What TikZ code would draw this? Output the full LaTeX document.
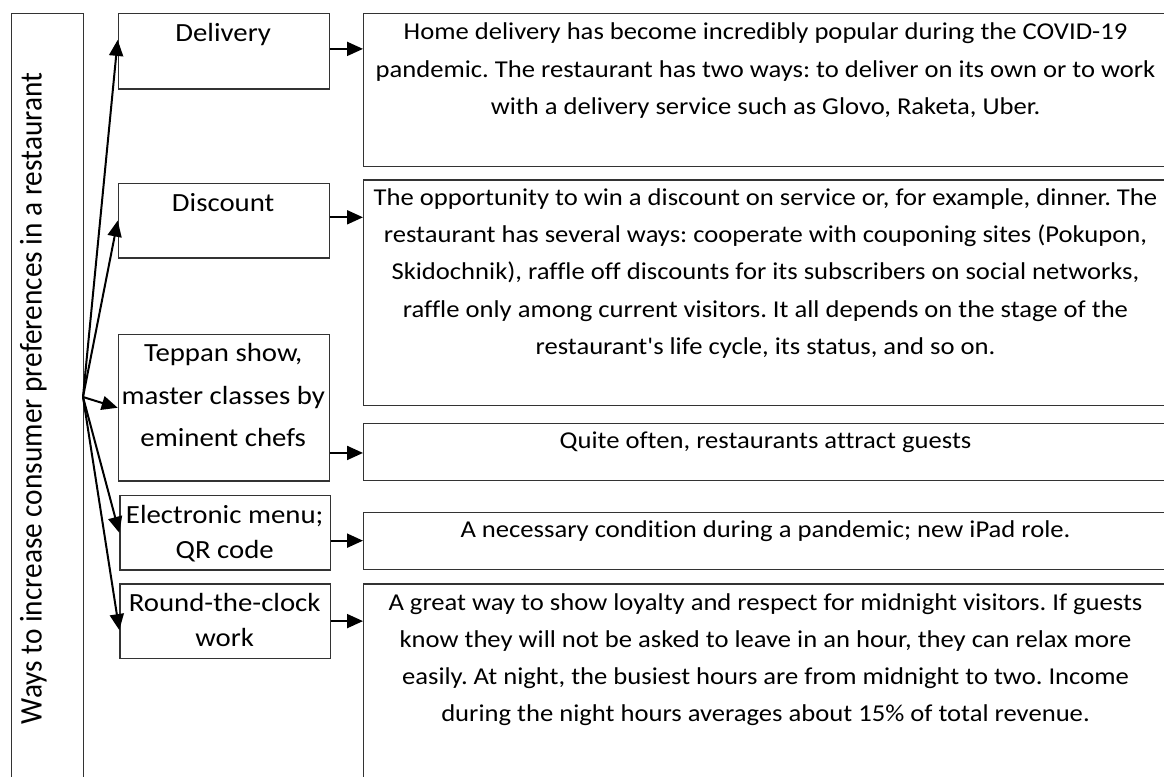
\documentclass[tikz,border=0pt]{standalone}
\usepackage{fontspec}
\setmainfont{Carlito}[Ligatures={TeXOff,NoCommon}]
\newfontfamily\hfont[FakeStretch=1.1,Ligatures={TeXOff,NoCommon}]{Carlito}
\newfontfamily\vfont[FakeStretch=0.93,Ligatures={TeXOff,NoCommon}]{Carlito}
\usetikzlibrary{arrows.meta,calc}
\frenchspacing

% centred block of lines: width, font size, line spacing, text
\newcommand\txtblock[4]{\parbox[t]{#1}{\centering\hfont\fontsize{#2}{#3}\selectfont #4\par}}

\begin{document}
\begin{tikzpicture}[x=1pt,y=-1pt,
  box/.style={draw=black!80,line width=1.2pt,anchor=north west,inner sep=0pt},
  link/.style={line width=2pt,-{Triangle[length=16pt,width=14pt]}},
  lbl/.style={anchor=base,inner sep=0pt}
]
\useasboundingbox (0,0) rectangle (1164,776);
\fill[white] (0,0) rectangle (1164,776);
\clip (0,0) rectangle (1164,776);

% root box with vertical caption
\node[box,minimum width=71.7pt,minimum height=800pt] (root) at (11,13.3) {};
\node[lbl,rotate=90,font=\vfont\fontsize{31.5}{36}\selectfont] (troot) at (41.7,398.5)
  {Ways to increase consumer preferences in a restaurant};

% middle column: the ways
\node[box,minimum width=211pt,minimum height=75pt]   (mdel) at (117.7,13.3) {};
\node[box,minimum width=211pt,minimum height=74.6pt] (mdis) at (117.7,182.7) {};
\node[box,minimum width=211pt,minimum height=146.3pt] (mtep) at (117.7,334) {};
\node[box,minimum width=210.7pt,minimum height=74.3pt] (mele) at (119.3,495) {};
\node[box,minimum width=210.7pt,minimum height=74.4pt] (mrnd) at (119.3,583.3) {};

\node[lbl] (tdel) at (223.2,41.7)  {\txtblock{211pt}{26.2pt}{42.5pt}{Delivery}};
\node[lbl] (tdis) at (223.2,211.7) {\txtblock{211pt}{26.2pt}{42.5pt}{Discount}};
\node[lbl] (ttep) at (223.2,361.7) {\txtblock{215pt}{26.2pt}{42.5pt}{Teppan show,\\ master classes by\\ eminent chefs}};
\node[lbl] (tele) at (224.7,523.3) {\txtblock{215pt}{26.2pt}{35pt}{Electronic menu;\\ QR code}};
\node[lbl] (trnd) at (224.7,611.7) {\txtblock{215pt}{26.2pt}{35pt}{Round-the-clock\\ work}};

% right column: descriptions
\node[box,minimum width=805pt,minimum height=152.7pt] (rdel) at (363,13.3) {};
\node[box,minimum width=805pt,minimum height=225.4pt] (rdis) at (363,179.3) {};
\node[box,minimum width=805pt,minimum height=57.3pt]  (rtep) at (363,422.7) {};
\node[box,minimum width=805pt,minimum height=57.3pt]  (rele) at (363,511.7) {};
\node[box,minimum width=805pt,minimum height=220pt]   (rrnd) at (363,583.3) {};

\node[lbl] (sdel) at (765.5,40) {\txtblock{820pt}{24.2pt}{37.5pt}{%
Home delivery has become incredibly popular during the COVID-19\\
pandemic. The restaurant has two ways: to deliver on its own or to work\\
with a delivery service such as Glovo, Raketa, Uber.}};
\node[lbl] (sdis) at (765.5,205.5) {\txtblock{820pt}{24.2pt}{37.2pt}{%
The opportunity to win a discount on service or, for example, dinner. The\\
restaurant has several ways: cooperate with couponing sites (Pokupon,\\
Skidochnik), raffle off discounts for its subscribers on social networks,\\
raffle only among current visitors. It all depends on the stage of the\\
restaurant's life cycle, its status, and so on.}};
\node[lbl] (step1) at (765.5,448) {\txtblock{820pt}{24.2pt}{37.2pt}{%
Quite often, restaurants attract guests}};
\node[lbl] (sele) at (765.5,537) {\txtblock{820pt}{24.2pt}{37.2pt}{%
A necessary condition during a pandemic; new iPad role.}};
\node[lbl] (srnd) at (765.5,610) {\txtblock{820pt}{24.2pt}{37.3pt}{%
A great way to show loyalty and respect for midnight visitors. If guests\\
know they will not be asked to leave in an hour, they can relax more\\
easily. At night, the busiest hours are from midnight to two. Income\\
during the night hours averages about 15\% of total revenue.}};

% fan of arrows from the root
\coordinate (hub) at (83,397);
\draw[link] (hub) -- ([yshift=11.5pt]mdel.west);
\draw[link] (hub) -- (mdis.west);
\draw[link] (hub) -- (mtep.west);
\draw[link] (hub) -- (mele.west);
\draw[link] (hub) -- ([yshift=-9pt]mrnd.west);

% arrows from each way to its description
\coordinate (o1) at ([yshift=2.5pt]mdel.east);
\coordinate (o2) at ([yshift=3.3pt]mdis.east);
\coordinate (o3) at ([yshift=-45.2pt]mtep.east);
\coordinate (o4) at ([yshift=-7.9pt]mele.east);
\coordinate (o5) at (mrnd.east);
\draw[link] (o1) -- (o1 -| rdel.west);
\draw[link] (o2) -- (o2 -| rdis.west);
\draw[link] (o3) -- (o3 -| rtep.west);
\draw[link] (o4) -- (o4 -| rele.west);
\draw[link] (o5) -- (o5 -| rrnd.west);
\end{tikzpicture}
\end{document}
